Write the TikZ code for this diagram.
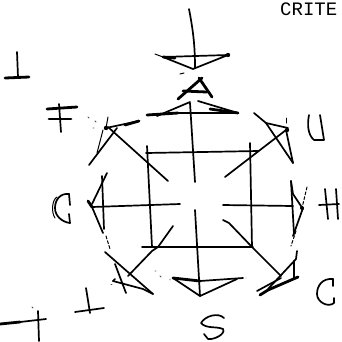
\documentclass[tikz,border=0pt]{standalone}
\usepackage{fontspec}
\newfontfamily\critefont{Liberation Mono}
\tikzset{
  ink/.style={draw=black,line width=1.7pt,line cap=round,line join=round},
  thick ink/.style={ink,line width=2.8pt},
  thin ink/.style={ink,line width=1pt},
  speck/.style={draw=black!70,line width=0.8pt,line cap=round},
  broken/.style={ink,line width=1pt,dash pattern=on 3pt off 2pt}
}
\begin{document}
\begin{tikzpicture}[x=1pt,y=-1pt]
\useasboundingbox (0,0) rectangle (342,341);
\fill[white] (0,0) rectangle (342,341);
% text
\node[anchor=west,inner sep=0pt,font=\critefont\fontsize{19}{19}\selectfont] (crite) at (280,9.5) {CRITE};
% hub square
\draw[ink] (146,153) -- (258,151);
\draw[ink] (147,146) -- (152,247);
\draw[ink] (250,143) -- (252,247);
\draw[ink] (142,247) -- (253,247);
% spokes
\draw[ink] (189,9) .. controls (193,30) and (195,45) .. (195,68);
\draw[ink] (190,103) -- (195,182);
\draw[ink] (195,210) -- (200,296);
\draw[ink] (92,207) -- (180,204);
\draw[ink] (223,205) -- (293,206);
\draw[ink] (108,127) -- (168,181);
\draw[ink] (286,130) -- (225,177);
\draw[ink] (128,276) -- (152,251) -- (158,247) -- (173,226);
\draw[ink] (223,220) -- (229,223) -- (253,248) -- (281,276);
% top triangle
\draw[ink] (163,57) -- (193,69) -- (228,55) -- cycle;
\draw[thin ink] (155,54) -- (163,57);
\draw[thick ink] (163,57) -- (175,58);
\fill (228,55) circle (2.2);
\draw[thin ink] (180,74) -- (184,73);
% A
\draw[thick ink] (199,78) -- (212,97);
\draw[thick ink] (202,78) -- (178,99);
\draw[thick ink] (183,91) -- (207,92);
% second triangle
\draw[thick ink] (147,115) -- (178,113);
\draw[ink] (178,113) -- (238,113);
\draw[ink] (157,116) -- (190,102);
\draw[ink] (198,101) -- (238,113);
\draw[thick ink] (210,109) -- (238,113);
% F corner triangle
\draw[ink] (106,128) -- (139,121);
\draw[thick ink] (139,121) -- (125,125);
\draw[ink] (117,128) -- (89,165);
\draw[thin ink] (103,130) -- (97,153);
\draw[thin ink] (108,117) -- (106,128);
\fill (106,128) circle (2.2);
\draw[speck] (88,117) -- (89,118) (95,121) -- (96,122) (93,128) -- (94,128);
% U corner triangle
\draw[ink] (254,113) -- (266,123) -- (293,163);
\draw[ink] (266,123) -- (288,128);
\draw[ink] (286,130) -- (293,163);
\draw[thin ink] (286,118) -- (286,123);
\fill (287,130) circle (2.2);
% G corner triangle
\draw[thick ink] (88,201) -- (92,207);
\draw[ink] (92,207) -- (103,233);
\draw[ink] (92,204) -- (107,173);
\draw[ink] (102,176) -- (104,229);
\draw[broken] (106,236) -- (110,249);
% lower-left triangle
\draw[ink] (105,252) -- (153,294);
\draw[ink] (115,264) -- (126,293);
\draw[ink] (113,281) -- (143,289) -- (153,294);
\draw[ink] (113,281) -- (115,279);
\draw[speck] (111,284) -- (112,284);
\draw[speck] (155,271) -- (156,271) (160,276) -- (161,277) (170,279) -- (170,280);
% H corner triangle
\draw[ink] (291,181) -- (293,194) -- (303,209);
\draw[ink] (303,208) -- (293,236);
\draw[ink] (291,181) -- (294,234);
\draw[broken] (307,187) -- (302,208);
\draw[broken] (296,231) -- (291,246);
\fill (302,208) circle (2);
% C corner triangle
\draw[ink] (297,251) -- (296,259) -- (283,273) -- (268,289);
\draw[ink] (294,261) -- (294,278);
\draw[thick ink] (260,295) -- (268,290) -- (298,277);
\draw[ink] (257,291) -- (281,278);
% S triangle
\draw[thick ink] (173,278) -- (200,281);
\draw[ink] (200,281) -- (243,278);
\draw[ink] (173,278) -- (200,296) -- (237,279);
\draw[speck] (246,278) -- (246,278);
% letter-like marks
\draw[ink] (17,52) -- (18,77);
\draw[thick ink] (5,78) -- (29,77);
\draw[thick ink] (47,109) -- (77,107);
\draw[thick ink] (49,119) -- (71,119);
\draw[ink] (59,104) -- (61,132);
\draw[ink] (309,115) .. controls (307,125) and (308,135) .. (314,140) -- (324,140) -- (320,115);
\draw[ink] (69,194) .. controls (60,193) and (55,200) .. (55,208) .. controls (55,216) and (62,222) .. (70,223);
\draw[ink] (69,194) -- (70,205) (69,214) -- (70,223);
\draw[thin ink] (57,197) .. controls (52,200) and (51,212) .. (55,218);
\draw[ink] (325,189) -- (328,219);
\draw[ink] (336,189) -- (338,219);
\draw[ink] (319,205) -- (339,204);
\draw[ink] (333,279) .. controls (322,278) and (317,286) .. (317,294) .. controls (317,302) and (328,308) .. (334,303) -- (334,298);
\draw[ink] (333,279) -- (333,286);
\draw[ink] (224,318) .. controls (218,312) and (205,316) .. (201,323) .. controls (206,329) and (216,326) .. (223,329) .. controls (226,334) and (214,340) .. (208,339) -- (204,334);
\draw[ink] (86,288) -- (90,313);
\draw[ink] (75,312) -- (104,308);
\draw[thick ink] (0,324) -- (20,322);
\draw[ink] (20,322) -- (46,319);
\draw[ink] (38,311) -- (39,341);
\draw[speck] (32,307) -- (33,308);
\end{tikzpicture}
\end{document}
